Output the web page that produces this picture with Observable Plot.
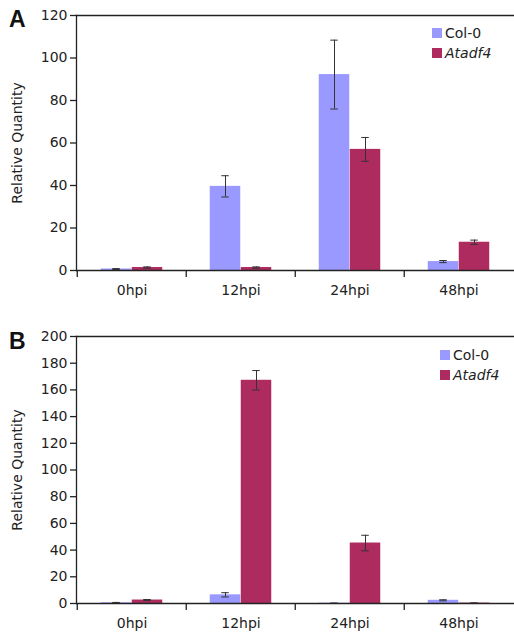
<!DOCTYPE html>
<html>
<head>
<meta charset="utf-8">
<script src="https://cdn.jsdelivr.net/npm/d3@7"></script>
<script src="https://cdn.jsdelivr.net/npm/@observablehq/plot@0.6"></script>
<style>
  html, body { margin: 0; padding: 0; background: #fff; }
  #root { position: relative; width: 514px; height: 637px; overflow: hidden; font-family: "DejaVu Sans", Verdana, sans-serif; color: #222; }
  .panel { position: absolute; left: 0; }
  .letter { position: absolute; left: 9px; font-family: "Liberation Sans", Arial, sans-serif; font-weight: bold; font-size: 23px; color: #111; }
  .leg { position: absolute; font-size: 14px; line-height: 14px; }
  .sw { position: absolute; width: 10px; height: 10px; }
</style>
</head>
<body>
<div id="root"></div>
<script>
const timepoints = ["0hpi", "12hpi", "24hpi", "48hpi"];
const seriesNames = ["Col-0", "Atadf4"];
const colors = ["#9999ff", "#ae2b60"];
const yLabel = "Relative Quantity";

// Panel A
const aCol0 = [0.7, 39.6, 92.2, 4.2];
const aCol0Err = [0.2, 5.0, 16.2, 0.5];
const aAtadf4 = [1.4, 1.4, 57.0, 13.3];
const aAtadf4Err = [0.3, 0.3, 5.6, 1.0];
const aTicks = [0, 20, 40, 60, 80, 100, 120];

// Panel B
const bCol0 = [0.5, 6.5, 0.2, 2.4];
const bCol0Err = [0.3, 1.6, 0.1, 0.4];
const bAtadf4 = [2.6, 167.2, 45.3, 0.3];
const bAtadf4Err = [0.4, 7.3, 5.8, 0.1];
const bTicks = [0, 20, 40, 60, 80, 100, 120, 140, 160, 180, 200];

const W = 514, ML = 76, MR = 0;
const bw = (W - ML - MR) / timepoints.length;
const barW = 31;
const gOff = (bw - 2 * barW) / 2;

function rows(col0, col0e, at, ate) {
  const out = [];
  timepoints.forEach((t, i) => {
    out.push({t, s: "Col-0", v: col0[i], e: col0e[i]});
    out.push({t, s: "Atadf4", v: at[i], e: ate[i]});
  });
  return out;
}

function panel(data, ticks, height, mt, mb) {
  const c0 = data.filter(d => d.s === "Col-0");
  const c1 = data.filter(d => d.s === "Atadf4");
  const errMarks = (arr, dx) => [
    Plot.ruleX(arr, {x: "t", y1: d => d.v - d.e, y2: d => d.v + d.e, dx, stroke: "#333", strokeWidth: 1}),
    Plot.tickY(arr, {x: "t", y: d => d.v + d.e, dx, insetLeft: bw / 2 - 4, insetRight: bw / 2 - 4, stroke: "#333"}),
    Plot.tickY(arr, {x: "t", y: d => d.v - d.e, dx, insetLeft: bw / 2 - 4, insetRight: bw / 2 - 4, stroke: "#333"})
  ];
  return Plot.plot({
    width: W, height,
    marginLeft: ML, marginRight: MR, marginTop: mt, marginBottom: mb,
    style: {fontFamily: "DejaVu Sans, Verdana, sans-serif", fontSize: "14px", color: "#222", background: "transparent", overflow: "visible"},
    x: {domain: timepoints, padding: 0, label: null},
    y: {domain: [ticks[0], ticks[ticks.length - 1]], label: null},
    color: {domain: seriesNames, range: colors},
    marks: [
      Plot.barY(c0, {x: "t", y: "v", fill: "s", insetLeft: gOff, insetRight: gOff + barW}),
      Plot.barY(c1, {x: "t", y: "v", fill: "s", insetLeft: gOff + barW, insetRight: gOff}),
      ...errMarks(c0, -barW / 2),
      ...errMarks(c1, barW / 2),
      Plot.ruleY([ticks[0]], {stroke: "#222", strokeWidth: 1.3}),
      Plot.ruleY([ticks[ticks.length - 1]], {stroke: "#222", strokeWidth: 1.3}),
      Plot.frame({anchor: "left", stroke: "#222", strokeWidth: 1.3}),
      Plot.axisY({ticks, tickSize: 6, tickPadding: 3, stroke: "#222", strokeWidth: 1.3, strokeOpacity: 1, fontSize: 14, label: null}),
      Plot.text([yLabel], {frameAnchor: "left", textAnchor: "middle", rotate: -90, dx: -59, fontSize: 14, fill: "#222"}),
      Plot.axisX({tickSize: 7, dx: -bw / 2, tickFormat: () => "", stroke: "#222", strokeWidth: 1.3, strokeOpacity: 1, label: null}),
      Plot.axisX({tickSize: 0, tickPadding: 15, fontSize: 14, label: null})
    ]
  });
}

const root = document.getElementById("root");

function addPanel(top, svg, letter, letterTop, legTop, legLeft) {
  const div = document.createElement("div");
  div.className = "panel";
  div.style.top = top + "px";
  div.appendChild(svg);
  root.appendChild(div);
  const L = document.createElement("div");
  L.className = "letter";
  L.style.top = letterTop + "px";
  L.textContent = letter;
  root.appendChild(L);
  seriesNames.forEach((n, i) => {
    const sw = document.createElement("div");
    sw.className = "sw";
    sw.style.left = legLeft + "px";
    sw.style.top = (legTop + i * 20) + "px";
    sw.style.background = colors[i];
    root.appendChild(sw);
    const t = document.createElement("div");
    t.className = "leg";
    t.style.left = (legLeft + 13) + "px";
    t.style.top = (legTop + i * 20 - 2) + "px";
    t.textContent = n;
    if (n === "Atadf4") t.style.fontStyle = "italic";
    root.appendChild(t);
  });
}

addPanel(0, panel(rows(aCol0, aCol0Err, aAtadf4, aAtadf4Err), aTicks, 300, 15, 30), "A", 6, 28, 432);
addPanel(300, panel(rows(bCol0, bCol0Err, bAtadf4, bAtadf4Err), bTicks, 337, 36, 34), "B", 328, 350, 440);
</script>
</body>
</html>
